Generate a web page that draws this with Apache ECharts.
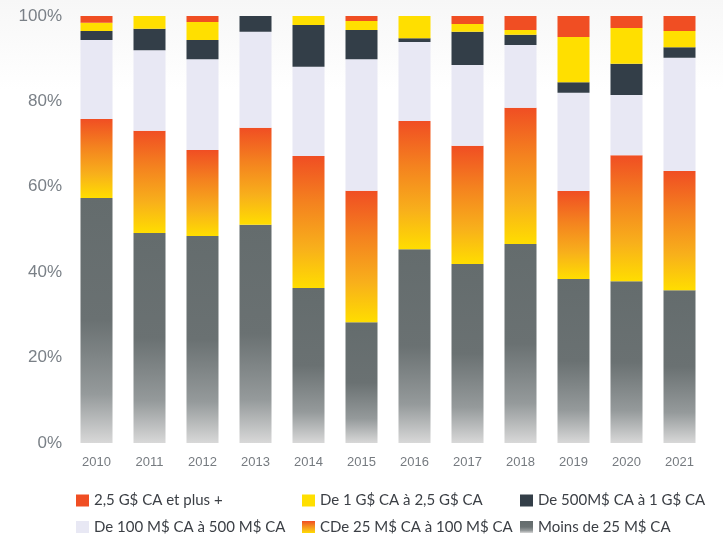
<!DOCTYPE html>
<html>
<head>
<meta charset="utf-8">
<script src="https://cdn.jsdelivr.net/npm/echarts@6/dist/echarts.min.js"></script>
<style>
  html, body { margin: 0; padding: 0; }
  body { width: 723px; height: 535px; background: linear-gradient(#f7f7f7 0px, #ffffff 90px); }
  #chart { width: 723px; height: 535px; }
</style>
</head>
<body>
<div id="chart"></div>
<script>
// Years on the category axis
const years = ['2010','2011','2012','2013','2014','2015','2016','2017','2018','2019','2020','2021'];

// Share of companies (%) by revenue bracket, bottom of the stack first
const moins25M   = [57.4, 49.2, 48.5, 51.1, 36.3, 28.3, 45.4, 41.9, 46.6, 38.4, 37.9, 35.8];
const de25a100M  = [18.5, 23.9, 20.1, 22.7, 30.9, 30.8, 30.0, 27.7, 31.9, 20.6, 29.5, 27.9];
const de100a500M = [18.5, 18.9, 21.3, 22.5, 20.9, 30.8, 18.5, 18.9, 14.7, 23.0, 14.1, 26.5];
const de500Ma1G  = [2.1, 5.0, 4.5, 3.7, 9.8, 6.8, 0.9, 7.8, 2.4, 2.5, 7.3, 2.5];
const de1a25G    = [1.9, 3.0, 4.2, 0, 2.1, 2.1, 5.2, 1.8, 1.1, 10.6, 8.4, 3.8];
const plus25G    = [1.6, 0, 1.4, 0, 0, 1.2, 0, 1.9, 3.3, 4.9, 2.8, 3.5];

// Value axis ticks
const yTicks = [0, 20, 40, 60, 80, 100];

const names = {
  moins25M: 'Moins de 25 M$ CA',
  de25a100M: 'CDe 25 M$ CA à 100 M$ CA',
  de100a500M: 'De 100 M$ CA à 500 M$ CA',
  de500Ma1G: 'De 500M$ CA à 1 G$ CA',
  de1a25G: 'De 1 G$ CA à 2,5 G$ CA',
  plus25G: '2,5 G$ CA et plus +'
};

const grayGrad = new echarts.graphic.LinearGradient(0, 0, 0, 1, [
  { offset: 0, color: '#646c6d' },
  { offset: 0.5, color: '#6a7172' },
  { offset: 0.8, color: '#959a9b' },
  { offset: 1, color: '#d8d8d8' }
]);
const orangeGrad = new echarts.graphic.LinearGradient(0, 0, 0, 1, [
  { offset: 0, color: '#f04e23' },
  { offset: 0.35, color: '#f4821f' },
  { offset: 0.7, color: '#f8b01b' },
  { offset: 1, color: '#ffdd00' }
]);

function barSeries(name, data, color) {
  return {
    name: name,
    type: 'bar',
    stack: 'total',
    barWidth: 32,
    data: data,
    itemStyle: { color: color },
    emphasis: { disabled: true }
  };
}

// One legend box per entry, laid out as a 3 x 2 table
const legendText = { color: '#3b3f45', fontSize: 15, fontFamily: 'Lato' };
function legendItem(name, left, top) {
  return {
    left: left,
    top: top,
    itemWidth: 13,
    itemHeight: 12,
    icon: 'rect',
    padding: 0,
    selectedMode: false,
    textStyle: legendText,
    data: [name]
  };
}
const colX = [76, 302, 520];
const rowY = [493, 519.5];

const chart = echarts.init(document.getElementById('chart'), null, { renderer: 'canvas' });
chart.setOption({
  backgroundColor: 'transparent',
  animation: false,
  grid: { left: 70, right: 17, top: 16, bottom: 92 },
  xAxis: {
    type: 'category',
    data: years,
    axisLine: { show: false },
    axisTick: { show: false },
    axisLabel: { color: '#767b80', fontSize: 13, fontFamily: 'Liberation Sans', margin: 13 }
  },
  yAxis: {
    type: 'value',
    min: yTicks[0],
    max: yTicks[yTicks.length - 1],
    interval: yTicks[1] - yTicks[0],
    splitLine: { show: false },
    axisLine: { show: false },
    axisTick: { show: false },
    axisLabel: { formatter: '{value}%', color: '#7a8087', fontSize: 17, fontFamily: 'Liberation Sans', margin: 8 }
  },
  legend: [
    legendItem(names.plus25G, colX[0], rowY[0]),
    legendItem(names.de1a25G, colX[1], rowY[0]),
    legendItem(names.de500Ma1G, colX[2], rowY[0]),
    legendItem(names.de100a500M, colX[0], rowY[1]),
    legendItem(names.de25a100M, colX[1], rowY[1]),
    legendItem(names.moins25M, colX[2], rowY[1])
  ],
  series: [
    barSeries(names.moins25M, moins25M, grayGrad),
    barSeries(names.de25a100M, de25a100M, orangeGrad),
    barSeries(names.de100a500M, de100a500M, '#e8e8f4'),
    barSeries(names.de500Ma1G, de500Ma1G, '#333e48'),
    barSeries(names.de1a25G, de1a25G, '#ffdf00'),
    barSeries(names.plus25G, plus25G, '#f04e23')
  ]
});
</script>
</body>
</html>
